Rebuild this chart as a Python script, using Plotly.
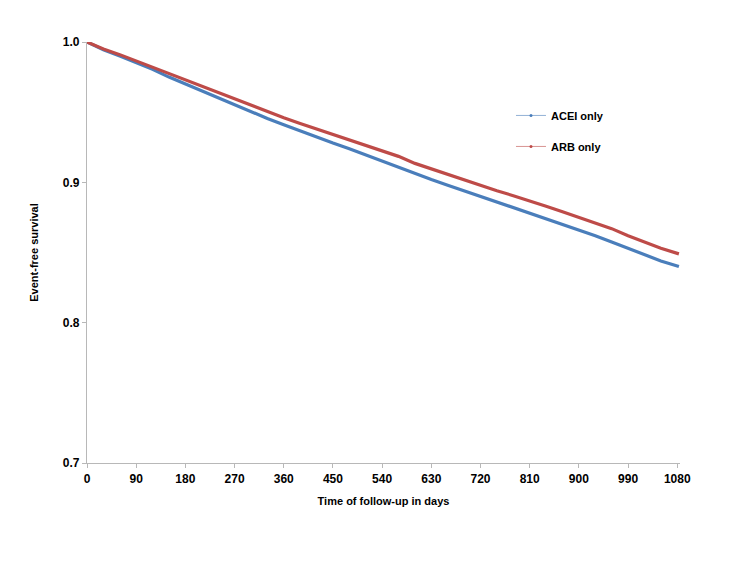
import plotly.graph_objects as go

# follow-up time (days) and event-free survival
days = [0, 30, 60, 90, 120, 150, 180, 210, 240, 270, 300, 330, 360, 390, 420,
        450, 480, 510, 540, 570, 600, 630, 660, 690, 720, 750, 780, 810, 840,
        870, 900, 930, 960, 990, 1020, 1050, 1083]

acei_only = [1.000, 0.9945, 0.9900, 0.9855, 0.9805, 0.9750, 0.9700, 0.9650,
             0.9600, 0.9550, 0.9505, 0.9455, 0.9410, 0.9365, 0.9325, 0.9280,
             0.9240, 0.9195, 0.9150, 0.9110, 0.9065, 0.9020, 0.8980, 0.8940,
             0.8900, 0.8860, 0.8820, 0.8780, 0.8745, 0.8705, 0.8665, 0.8620,
             0.8575, 0.8530, 0.8485, 0.8440, 0.8400]

arb_only = [1.000, 0.9950, 0.9910, 0.9865, 0.9820, 0.9770, 0.9725, 0.9680,
            0.9635, 0.9590, 0.9545, 0.9500, 0.9460, 0.9420, 0.9380, 0.9340,
            0.9300, 0.9260, 0.9220, 0.9185, 0.9135, 0.9095, 0.9055, 0.9015,
            0.8980, 0.8940, 0.8905, 0.8870, 0.8830, 0.8790, 0.8750, 0.8710,
            0.8670, 0.8620, 0.8575, 0.8530, 0.8490]

series = [("ACEI only", acei_only, "#4a7ebb"), ("ARB only", arb_only, "#be4b48")]

x_ticks = list(range(0, 1081, 90))
y_ticks = [0.7, 0.8, 0.9, 1.0]

FONT = "Liberation Sans, Arial, Helvetica, sans-serif"

fig = go.Figure()

for name, vals, color in series:
    fig.add_trace(go.Scatter(
        x=days, y=vals, mode="lines", name=name, showlegend=False,
        line=dict(color=color, width=3.2),
    ))

# thin legend keys, like the original
for name, vals, color in series:
    fig.add_trace(go.Scatter(
        x=[None], y=[None], mode="lines+markers", name=name,
        legendgroup=name,
        line=dict(color=color, width=0.6),
        marker=dict(color=color, size=3),
    ))

axis_common = dict(
    showline=True, linecolor="#b8b8b8", linewidth=1.2,
    ticks="outside", tickcolor="#b8b8b8", ticklen=4, tickwidth=1,
    showgrid=False, zeroline=False,
)

fig.update_layout(
    width=733, height=566,
    margin=dict(l=79, r=61, t=34, b=111),
    paper_bgcolor="white", plot_bgcolor="white",
    font=dict(family=FONT, color="#000000"),
    showlegend=True,
    legend=dict(
        x=0.715, y=0.86, xanchor="left", yanchor="top",
        font=dict(family=FONT, size=11, color="#000000", weight="bold"),
        bgcolor="rgba(0,0,0,0)", tracegroupgap=12, itemwidth=30,
    ),
    xaxis=dict(
        axis_common, range=[0, 1085], tickvals=x_ticks,
        tickfont=dict(family=FONT, size=12, color="#000000", weight="bold"),
        title=dict(text="<b>Time of follow-up in days</b>", standoff=12,
                   font=dict(family=FONT, size=11, color="#000000")),
    ),
    yaxis=dict(
        axis_common, range=[0.7, 1.0], tickvals=y_ticks, tickformat=".1f",
        tickfont=dict(family=FONT, size=12, color="#000000", weight="bold"),
        title=dict(text="<b>Event-free survival</b>", standoff=21,
                   font=dict(family=FONT, size=11, color="#000000")),
    ),
)

fig.write_html("out.html")
